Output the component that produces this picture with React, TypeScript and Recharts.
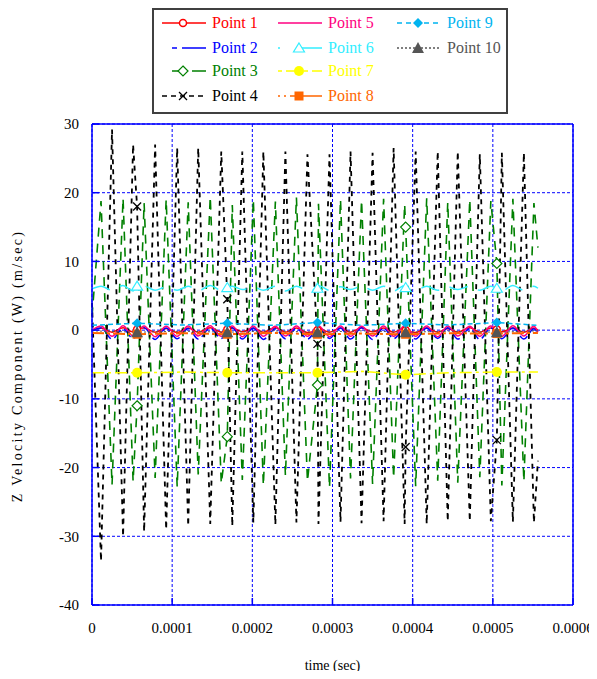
import React from 'react';
import { LineChart, Line, XAxis, YAxis, CartesianGrid, ReferenceLine, Legend, Label } from 'recharts';

const FONT = "'Liberation Serif', 'Times New Roman', Times, serif";
const BLUE = '#0000FF';

const xTicks = [0, 0.0001, 0.0002, 0.0003, 0.0004, 0.0005, 0.0006];
const yTicks = [-40, -30, -20, -10, 0, 10, 20, 30];

// sample times (s) of the oscillation extremes
const tGrid = [
  0, 0.00001125, 0.000025, 0.00003875, 0.00005125, 0.000065, 0.00007875, 0.0000925, 0.00010625, 0.00012,
  0.0001325, 0.0001475, 0.00016125, 0.000175, 0.0001875, 0.00020125, 0.00021375, 0.00022875, 0.00024125, 0.000255,
  0.00026875, 0.0002825, 0.00029625, 0.00031, 0.0003225, 0.00033625, 0.00035, 0.00036375, 0.00037625, 0.00039,
  0.00040375, 0.0004175, 0.00043125, 0.00044375, 0.00045625, 0.00047125, 0.00048375, 0.0004975, 0.00051125, 0.000525,
  0.00053875, 0.00055125, 0.00055625,
];
const tCoarse = [0, 0.0001125, 0.000225, 0.00033625, 0.000445, 0.00055625];
const tMark = [0.00005625, 0.00016875, 0.00028125, 0.00039125, 0.000505];

const p1 = [0, 0.3, -0.3, 0.35, -0.25, 0.3, -0.3, 0.25, -0.35, 0.3, -0.3, 0.35, -0.3, 0.3, -0.25, 0.3, -0.3, 0.35, -0.3, 0.3, -0.35, 0.25, -0.3, 0.3, -0.3, 0.35, -0.25, 0.3, -0.3, 0.3, -0.35, 0.3, -0.3, 0.25, -0.3, 0.35, -0.3, 0.3, -0.25, 0.3, -0.3, 0.3, 0];
const p2 = [0, 0.3, -1.3, 0.2, -1.2, 0.35, -1.35, 0.3, -1.25, 0.25, -1.3, 0.3, -1.2, 0.35, -1.3, 0.3, -1.35, 0.2, -1.25, 0.3, -1.3, 0.25, -1.2, 0.3, -1.3, 0.35, -1.35, 0.3, -1.25, 0.2, -1.3, 0.3, -1.2, 0.35, -1.3, 0.25, -1.35, 0.3, -1.25, 0.3, -1.3, 0.2, -0.5];
const p3 = [2, 18.8, -22.5, 19.2, -22, 18.5, -21.5, 19, -22.8, 18.6, -21, 19.4, -22.3, 18.2, -21.8, 19, -22.6, 18.7, -21.2, 19.3, -22, 18.4, -22.9, 19, -21.6, 18.9, -22.4, 19.1, -21.5, 18.3, -22.7, 19.2, -21.9, 18.6, -22.2, 19, -21.4, 18.8, -22.6, 19.1, -22, 18.5, 12];
const p4 = [4, -33.6, 29.2, -30, 27, -29.3, 27, -29, 26.5, -28.5, 26.5, -28.2, 26, -28.5, 26, -28, 26, -28.3, 26, -28, 25.6, -28.2, 25.6, -27.9, 26, -28.1, 25.8, -27.8, 26.5, -28.2, 26, -28.2, 26, -27.8, 26, -27.8, 25.6, -27.8, 25.8, -27.9, 25.8, -28, -19];
const p5 = [0, 0.6, -0.9, 0.65, -0.85, 0.6, -0.95, 0.55, -0.9, 0.6, -0.85, 0.65, -0.9, 0.6, -0.95, 0.6, -0.9, 0.55, -0.85, 0.6, -0.9, 0.65, -0.95, 0.6, -0.9, 0.55, -0.85, 0.6, -0.9, 0.65, -0.9, 0.6, -0.95, 0.6, -0.85, 0.55, -0.9, 0.6, -0.9, 0.65, -0.85, 0.6, -0.3];
const p6 = [6.0, 6.4, 5.8, 6.5, 5.7, 6.4, 5.8, 6.3, 5.8, 6.4, 5.7, 6.5, 5.8, 6.4, 5.9, 6.3, 5.8, 6.4, 5.7, 6.4, 5.8, 6.5, 5.8, 6.3, 5.9, 6.4, 5.8, 6.4, 5.7, 6.5, 5.8, 6.4, 5.8, 6.3, 5.9, 6.4, 5.8, 6.4, 5.7, 6.5, 5.8, 6.4, 6.1];
const p7 = [-6.2, -6.1, -6.2, -6.0, -6.2, -6.1];
const p8 = [-0.4, -0.45, -0.4, -0.5, -0.45, -0.4];
const p9 = [0.7, 0.75, 0.7, 0.7, 0.75, 0.7];
const p10 = [-0.1, -0.15, -0.1, -0.1, -0.15, -0.1];

// marker values at tMark
const m1 = [0.1, 0.1, 0, 0, 0.1];
const m3 = [-11, -15.5, -8, 15, 9.7];
const m4 = [18, 4.5, -2, -17, -16];
const m6 = [6.4, 6.2, 6.1, 6.2, 6.1];
const m7 = [-6.2, -6.2, -6.2, -6.5, -6.1];
const m8 = [-0.6, -0.6, -0.6, -0.6, -0.5];
const m9 = [1.0, 1.0, 1.1, 1.0, 1.1];
const m10 = [-0.3, -0.3, -0.3, -0.3, -0.3];

type Pt = { t: number; v: number; m?: boolean };
function build(times: number[], vals: number[], marks?: number[]): Pt[] {
  const pts: Pt[] = times.map((t, i) => ({ t, v: vals[i] }));
  if (marks) tMark.forEach((t, i) => pts.push({ t, v: marks[i], m: true }));
  return pts.sort((a, b) => a.t - b.t);
}

type Series = {
  name: string; color: string; text: string; data: Pt[]; dash?: string; width: number;
  shape?: string; curve: 'monotone' | 'linear'; legendDash?: string; lx0: number;
};

const SERIES: Series[] = [
  { name: 'Point 1', color: '#FF0000', text: '#FF0000', data: build(tGrid, p1, m1), width: 1.5, shape: 'circleOpen', curve: 'monotone', lx0: 0 },
  { name: 'Point 2', color: '#0000FF', text: '#0000FF', data: build(tGrid, p2), dash: '10 4', width: 1.5, curve: 'monotone', legendDash: '5 5 30 100', lx0: 10 },
  { name: 'Point 3', color: '#008000', text: '#008000', data: build(tGrid, p3, m3), dash: '9 7', width: 1.6, shape: 'diamondOpen', curve: 'linear', legendDash: '14 6 20 100', lx0: 10 },
  { name: 'Point 4', color: '#000000', text: '#000000', data: build(tGrid, p4, m4), dash: '5 5', width: 1.8, shape: 'cross', curve: 'linear', legendDash: '5 4', lx0: 0 },
  { name: 'Point 5', color: '#FF0080', text: '#FF0080', data: build(tGrid, p5), width: 1.5, curve: 'monotone', lx0: 0 },
  { name: 'Point 6', color: '#33EEFF', text: '#33EEFF', data: build(tGrid, p6, m6), dash: '19 11', width: 1.5, shape: 'triangleOpen', curve: 'monotone', legendDash: '2 20 30 100', lx0: 0 },
  { name: 'Point 7', color: '#FFFF00', text: '#FFFF00', data: build(tCoarse, p7, m7), dash: '12 4 3 4', width: 1.5, shape: 'circleFilled', curve: 'linear', legendDash: '4 4 14 4', lx0: 0 },
  { name: 'Point 8', color: '#FF6600', text: '#FF6600', data: build(tCoarse, p8, m8), dash: '12 3 3 3', width: 2, shape: 'square', curve: 'linear', legendDash: '2 4 2 4 40 100', lx0: 0 },
  { name: 'Point 9', color: '#00B4F0', text: '#00B4F0', data: build(tCoarse, p9, m9), dash: '5 3', width: 1.5, shape: 'diamondFilled', curve: 'linear', legendDash: '5 4', lx0: 0 },
  { name: 'Point 10', color: '#555555', text: '#555555', data: build(tCoarse, p10, m10), dash: '2 2', width: 1, shape: 'triangleFilled', curve: 'linear', legendDash: '2 2', lx0: 0 },
];

function Marker({ shape, color, x, y }: { shape: string; color: string; x: number; y: number }) {
  switch (shape) {
    case 'circleOpen':
      return <circle cx={x} cy={y} r={3.5} fill="#fff" stroke={color} strokeWidth={1.5} />;
    case 'diamondOpen':
      return <polygon points={`${x},${y - 5} ${x + 5},${y} ${x},${y + 5} ${x - 5},${y}`} fill="#fff" stroke={color} strokeWidth={1.2} />;
    case 'cross':
      return (
        <g stroke={color} strokeWidth={1.3}>
          <line x1={x - 4} y1={y - 4} x2={x + 4} y2={y + 4} />
          <line x1={x - 4} y1={y + 4} x2={x + 4} y2={y - 4} />
        </g>
      );
    case 'triangleOpen':
      return <polygon points={`${x},${y - 5} ${x + 5.5},${y + 4} ${x - 5.5},${y + 4}`} fill="#fff" stroke={color} strokeWidth={1.2} />;
    case 'circleFilled':
      return <circle cx={x} cy={y} r={5} fill={color} />;
    case 'square':
      return <rect x={x - 4.5} y={y - 4.5} width={9} height={9} fill={color} />;
    case 'diamondFilled':
      return <polygon points={`${x},${y - 5} ${x + 5},${y} ${x},${y + 5} ${x - 5},${y}`} fill={color} />;
    case 'triangleFilled':
      return <polygon points={`${x},${y - 6} ${x + 6},${y + 5} ${x - 6},${y + 5}`} fill={color} />;
    default:
      return null;
  }
}

const makeDot = (shape: string, color: string) => (props: any) => {
  const { cx, cy, payload, index } = props;
  if (!payload || !payload.m || cx == null || cy == null) return <g key={`d${index}`} />;
  return (
    <g key={`d${index}`}>
      <Marker shape={shape} color={color} x={cx} y={cy} />
    </g>
  );
};

const COL_LINE = [10, 126, 245];
const ROW_Y = [15, 40, 63, 88];

function LegendBox() {
  return (
    <div
      style={{
        width: 356, height: 106, border: '2px solid #404040', boxSizing: 'border-box', background: '#fff',
        position: 'relative', fontFamily: FONT, fontSize: 16,
      }}
    >
      {SERIES.map((s, i) => {
        const col = i < 4 ? 0 : i < 8 ? 1 : 2;
        const row = i < 4 ? i : i < 8 ? i - 4 : i - 8;
        const left = COL_LINE[col] - 2;
        const top = ROW_Y[row] - 2;
        return (
          <div key={s.name} style={{ position: 'absolute', left, top: top - 9, height: 18, display: 'flex', alignItems: 'center', whiteSpace: 'nowrap' }}>
            <svg width={50} height={18} style={{ display: 'block' }}>
              <line x1={s.lx0} y1={9} x2={44} y2={9} stroke={s.color} strokeWidth={1.5} strokeDasharray={s.legendDash} />
              {s.shape ? <Marker shape={s.shape} color={s.color} x={21} y={9} /> : null}
            </svg>
            <span style={{ color: s.text, lineHeight: '18px' }}>{s.name}</span>
          </div>
        );
      })}
    </div>
  );
}

const YLabel = (props: any) => {
  const vb = props.viewBox || { x: 0, y: 116, width: 84, height: 481 };
  const cx = vb.x + 9;
  const cy = vb.y + vb.height / 2 + 1.5;
  return (
    <text x={cx} y={cy} transform={`rotate(-90 ${cx} ${cy})`} textAnchor="middle" dominantBaseline="central"
      fontFamily={FONT} fontSize={14} letterSpacing={2.3} fill="#000">
      Z Velocity Component (W) (m/sec)
    </text>
  );
};

const XLabel = (props: any) => {
  const vb = props.viewBox || { x: 84, y: 597, width: 481, height: 66 };
  const cx = vb.x + vb.width / 2;
  const cy = vb.y + 60;
  return (
    <text x={cx} y={cy} textAnchor="middle" dominantBaseline="central" fontFamily={FONT} fontSize={14} fill="#000">
      time (sec)
    </text>
  );
};

export default function App() {
  return (
    <div style={{ width: 581, overflow: 'visible' }}>
      <LineChart width={589} height={663} margin={{ top: 116, right: 24, bottom: 0, left: 0 }} style={{ background: '#fff' }}>
        <CartesianGrid stroke={BLUE} strokeDasharray="3 2" strokeWidth={1} />
        <XAxis
          type="number" dataKey="t" domain={[0, 0.0006]} ticks={xTicks} height={66} interval={0}
          axisLine={{ stroke: BLUE, strokeWidth: 1.5 }} tickLine={{ stroke: BLUE, strokeWidth: 1.5 }}
          tickSize={-7} tickMargin={24}
          tick={{ fontSize: 15, fill: '#000', fontFamily: FONT }}
          tickFormatter={(v: number) => String(v)}
        >
          <Label content={<XLabel />} />
        </XAxis>
        <YAxis
          type="number" domain={[-40, 30]} ticks={yTicks} width={84} interval={0}
          axisLine={{ stroke: BLUE, strokeWidth: 1.5 }} tickLine={{ stroke: BLUE, strokeWidth: 1.5 }}
          tickSize={-7} tickMargin={20}
          tick={{ fontSize: 15, fill: '#000', fontFamily: FONT }}
        >
          <Label content={<YLabel />} />
        </YAxis>
        <ReferenceLine y={30} stroke={BLUE} strokeWidth={1.5} />
        <ReferenceLine x={0.0006} stroke={BLUE} strokeWidth={1.5} />
        {SERIES.map((s) => (
          <Line
            key={s.name}
            name={s.name}
            data={s.data}
            dataKey="v"
            type={s.curve}
            stroke={s.color}
            strokeWidth={s.width}
            strokeDasharray={s.dash}
            dot={s.shape ? makeDot(s.shape, s.color) : false}
            activeDot={false}
            isAnimationActive={false}
          />
        ))}
        <Legend
          layout="horizontal" verticalAlign="middle" align="center"
          wrapperStyle={{ top: 0, left: 144, width: 356, height: 106 }}
          content={() => <LegendBox />}
        />
      </LineChart>
    </div>
  );
}
